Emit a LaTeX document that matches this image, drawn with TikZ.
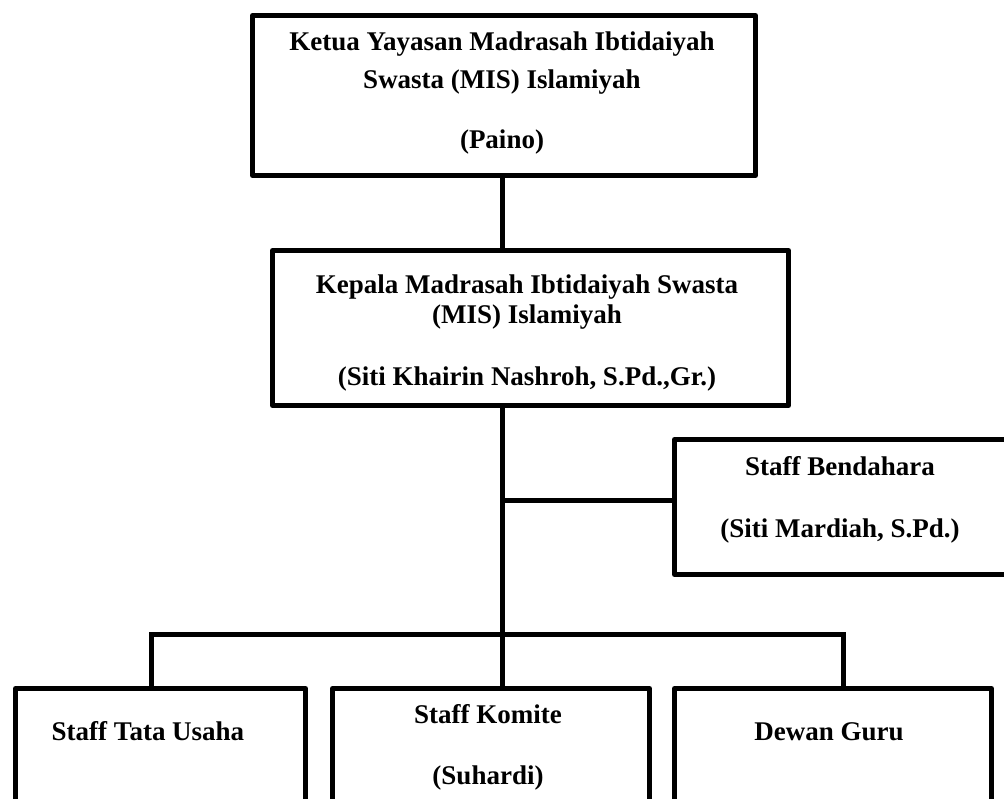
\documentclass[tikz,border=0pt]{standalone}
\usepackage{fontspec}
\setmainfont{Liberation Serif}
\begin{document}
\begin{tikzpicture}[x=1pt,y=-1pt,
  box/.style={draw=black,line width=5pt,line join=round,fill=white,inner sep=0pt,anchor=north west},
  lbl/.style={inner sep=0pt,anchor=base,font=\fontsize{27}{32}\selectfont\bfseries},
  conn/.style={line width=5pt}]
\useasboundingbox (0,0) rectangle (1004,798);
\begin{scope}
\clip (0,0) rectangle (1004,798);
% junctions / spine
\coordinate (jt) at (502,173);
\coordinate (jm) at (502,403);
\coordinate (jb) at (502,500);
\coordinate (jbar) at (502,634);
\coordinate (jl) at (151,634);
\coordinate (jr) at (843,634);
% boxes
\node[box,minimum width=503pt,minimum height=160pt] (ketua) at (250,13) {};
\node[box,minimum width=516pt,minimum height=155pt] (kepala) at (270,248) {};
\node[box,minimum width=345pt,minimum height=135pt] (bend) at (672,437) {};
\node[box,minimum width=290pt,minimum height=140pt] (tu) at (13,686) {};
\node[box,minimum width=317pt,minimum height=140pt] (kom) at (330,686) {};
\node[box,minimum width=317pt,minimum height=140pt] (dg) at (672,686) {};
% connectors
\draw[conn] (jt |- ketua.south) -- (jt |- kepala.north);
\draw[conn] (jm |- kepala.south) -- (jbar);
\draw[conn] (jb) -- (bend.west |- jb);
\draw[conn,line cap=rect] (jl) -- (jr);
\draw[conn] (jl) -- (jl |- tu.north);
\draw[conn] (jbar) -- (jbar |- kom.north);
\draw[conn] (jr) -- (jr |- dg.north);
% texts
\node[lbl] (k1) at (502,50) {Ketua Yayasan Madrasah Ibtidaiyah};
\node[lbl] (k2) at (502,88) {Swasta (MIS) Islamiyah};
\node[lbl] (k3) at (502,148) {(Paino)};
\node[lbl] (m1) at (527,293) {Kepala Madrasah Ibtidaiyah Swasta};
\node[lbl] (m2) at (527,323) {(MIS) Islamiyah};
\node[lbl] (m3) at (527,385) {(Siti Khairin Nashroh, S.Pd.,Gr.)};
\node[lbl] (b1) at (840,475) {Staff Bendahara};
\node[lbl] (b2) at (840,537) {(Siti Mardiah, S.Pd.)};
\node[lbl] (t1) at (148,740) {Staff Tata Usaha};
\node[lbl] (c1) at (488,723) {Staff Komite};
\node[lbl] (c2) at (488,784) {(Suhardi)};
\node[lbl] (d1) at (829,740) {Dewan Guru};
\end{scope}
\end{tikzpicture}
\end{document}
